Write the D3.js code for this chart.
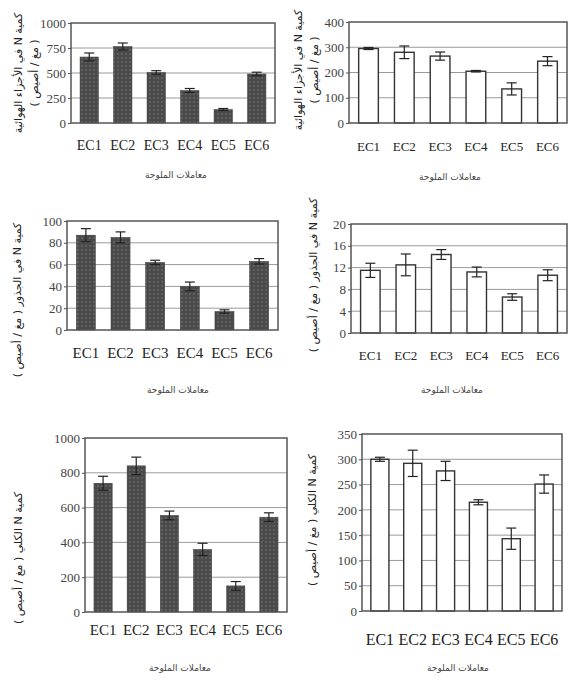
<!DOCTYPE html>
<html>
<head>
<meta charset="utf-8">
<script src="https://cdn.jsdelivr.net/npm/d3@7"></script>
<style>
  body { margin: 0; background: #fff; }
</style>
</head>
<body>
<svg id="chart" width="568" height="682"></svg>
<script>
// salinity treatments
const categories = ["EC1", "EC2", "EC3", "EC4", "EC5", "EC6"];

// N in shoots (mg/pot)
const shootDark = [660, 765, 505, 325, 135, 490];
const shootDarkErr = [40, 35, 18, 20, 10, 18];
const shootLight = [295, 280, 265, 205, 135, 245];
const shootLightErr = [4, 25, 16, 3, 24, 18];

// N in roots (mg/pot)
const rootDark = [87, 85, 62, 40, 17, 63];
const rootDarkErr = [6, 5, 2, 4, 1.5, 2.5];
const rootLight = [11.5, 12.5, 14.4, 11.2, 6.6, 10.6];
const rootLightErr = [1.3, 2, 0.9, 0.9, 0.6, 1];

// total N (mg/pot)
const totalDark = [740, 840, 555, 360, 150, 545];
const totalDarkErr = [40, 50, 25, 35, 25, 25];
const totalLight = [300, 292, 277, 215, 143, 251];
const totalLightErr = [4, 26, 19, 5, 21, 18];

// y tick labels
const ticksShootDark = [0, 250, 500, 750, 1000];
const ticksShootLight = [0, 100, 200, 300, 400];
const ticksRootDark = [0, 20, 40, 60, 80, 100];
const ticksRootLight = [0, 4, 8, 12, 16, 20];
const ticksTotalDark = [0, 200, 400, 600, 800, 1000];
const ticksTotalLight = [0, 50, 100, 150, 200, 250, 300, 350];

const xTitle = "معاملات الملوحة";

const SERIF = "'Liberation Serif', 'Times New Roman', 'DejaVu Serif', serif";
const ARABIC = "'DejaVu Sans', sans-serif";

const svg = d3.select("#chart");

// dotted texture for the dark bars
const pat = svg.append("defs").append("pattern")
    .attr("id", "dots")
    .attr("width", 4).attr("height", 4)
    .attr("patternUnits", "userSpaceOnUse");
pat.append("rect").attr("width", 4).attr("height", 4).attr("fill", "#4a4a4a");
pat.append("circle").attr("cx", 2).attr("cy", 2).attr("r", 0.9).attr("fill", "#6b6b6b");

const panels = [
    {values: shootDark, errs: shootDarkErr, ticks: ticksShootDark, dark: true,
     box: {l: 71, r: 275, t: 23, b: 123}, labY: 147, titleX: 176, titleY: 175,
     yTitle: ["كمية N في الأجزاء الهوائية", "( مغ / أصيص )"], yTitleX: 18, yTitleY: 73, fs: 14},
    {values: shootLight, errs: shootLightErr, ticks: ticksShootLight, dark: false,
     box: {l: 349, r: 567, t: 22, b: 123}, labY: 148, titleX: 450, titleY: 177,
     yTitle: ["كمية N في الأجزاء الهوائية", "( مغ / أصيص )"], yTitleX: 298, yTitleY: 70, fs: 13},
    {values: rootDark, errs: rootDarkErr, ticks: ticksRootDark, dark: true,
     box: {l: 67, r: 278, t: 221, b: 330}, labY: 355, titleX: 178, titleY: 390,
     yTitle: ["كمية N في الجذور ( مغ / أصيص )"], yTitleX: 17, yTitleY: 300, fs: 15},
    {values: rootLight, errs: rootLightErr, ticks: ticksRootLight, dark: false,
     box: {l: 351, r: 567, t: 224, b: 333}, labY: 357, titleX: 452, titleY: 390,
     yTitle: ["كمية N في الجذور ( مغ / أصيص )"], yTitleX: 313, yTitleY: 275, fs: 13},
    {values: totalDark, errs: totalDarkErr, ticks: ticksTotalDark, dark: true,
     box: {l: 85, r: 287, t: 438, b: 612}, labY: 632, titleX: 180, titleY: 668,
     yTitle: ["كمية N الكلي ( مغ / أصيص )"], yTitleX: 18, yTitleY: 558, fs: 15},
    {values: totalLight, errs: totalLightErr, ticks: ticksTotalLight, dark: false,
     box: {l: 362, r: 562, t: 434, b: 611}, labY: 641, titleX: 458, titleY: 668,
     yTitle: ["كمية N الكلي ( مغ / أصيص )"], yTitleX: 312, yTitleY: 520, fs: 16}
];

panels.forEach(p => {
    const g = svg.append("g");
    const b = p.box;

    const x = d3.scaleBand()
        .domain(categories)
        .range([b.l, b.r])
        .paddingInner(0.45)
        .paddingOuter(0.27);
    const y = d3.scaleLinear()
        .domain([0, d3.max(p.ticks)])
        .range([b.b, b.t]);

    // gridlines
    g.selectAll(".grid")
        .data(p.ticks.slice(1, -1))
        .join("line")
        .attr("x1", b.l).attr("x2", b.r)
        .attr("y1", d => y(d)).attr("y2", d => y(d))
        .attr("stroke", "#9a9a9a").attr("stroke-width", 1);

    // y axis
    const yAxis = d3.axisLeft(y).tickValues(p.ticks).tickFormat(d3.format("d"))
        .tickSize(3).tickPadding(2);
    const ag = g.append("g")
        .attr("transform", `translate(${b.l},0)`)
        .call(yAxis);
    ag.attr("font-family", SERIF);
    ag.select(".domain").remove();
    ag.selectAll("line").attr("stroke", "#555");
    ag.selectAll("text")
        .style("font-family", SERIF)
        .attr("font-size", 13)
        .attr("fill", "#444");

    // bars
    g.selectAll(".bar")
        .data(p.values)
        .join("rect")
        .attr("x", (d, i) => x(categories[i]))
        .attr("width", x.bandwidth())
        .attr("y", d => y(d))
        .attr("height", d => y(0) - y(d))
        .attr("fill", p.dark ? "url(#dots)" : "#fff")
        .attr("stroke", p.dark ? "#3a3a3a" : "#333")
        .attr("stroke-width", p.dark ? 0.5 : 1.4);

    // error bars
    const cap = 5;
    p.values.forEach((v, i) => {
        const cx = x(categories[i]) + x.bandwidth() / 2;
        const e = p.errs[i];
        const eg = g.append("g").attr("stroke", "#222").attr("stroke-width", 1.2);
        eg.append("line").attr("x1", cx).attr("x2", cx).attr("y1", y(v - e)).attr("y2", y(v + e));
        eg.append("line").attr("x1", cx - cap).attr("x2", cx + cap).attr("y1", y(v + e)).attr("y2", y(v + e));
        eg.append("line").attr("x1", cx - cap).attr("x2", cx + cap).attr("y1", y(v - e)).attr("y2", y(v - e));
    });

    // frame
    g.append("rect")
        .attr("x", b.l).attr("y", b.t)
        .attr("width", b.r - b.l).attr("height", b.b - b.t)
        .attr("fill", "none").attr("stroke", "#555").attr("stroke-width", 1.5);

    // category labels
    g.selectAll(".cat")
        .data(categories)
        .join("text")
        .style("font-family", SERIF)
        .attr("x", d => x(d) + x.bandwidth() / 2)
        .attr("y", p.labY)
        .attr("dominant-baseline", "middle")
        .attr("text-anchor", "middle")
        .attr("font-size", p.fs)
        .attr("fill", "#222")
        .text(d => d);

    // x title
    g.append("text")
        .style("font-family", ARABIC)
        .style("direction", "rtl")
        .attr("x", p.titleX).attr("y", p.titleY)
        .attr("text-anchor", "middle")
        .attr("dominant-baseline", "middle")
        .attr("font-size", 9)
        .attr("fill", "#444")
        .text(xTitle);

    // y title
    const yt = g.append("text")
        .style("font-family", ARABIC)
        .style("direction", "rtl")
        .attr("transform", `translate(${p.yTitleX},${p.yTitleY}) rotate(-90)`)
        .attr("text-anchor", "middle")
        .attr("font-size", 11)
        .attr("fill", "#222");
    p.yTitle.forEach((line, i) => {
        yt.append("tspan")
            .attr("x", 0)
            .attr("dy", i === 0 ? "0.35em" : "1.45em")
            .text(line);
    });
});
</script>
</body>
</html>
